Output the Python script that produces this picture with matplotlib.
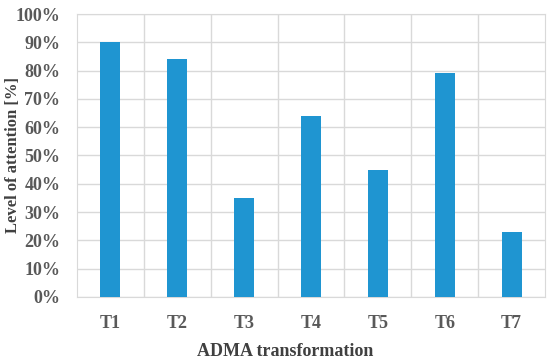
import numpy as np
import matplotlib.pyplot as plt
from matplotlib.ticker import FixedLocator, PercentFormatter

categories = ["T1", "T2", "T3", "T4", "T5", "T6", "T7"]
attention = [90, 84, 35, 64, 45, 79, 23]

plt.rcParams['font.family'] = ['Liberation Serif', 'DejaVu Serif']
plt.rcParams['font.weight'] = 'bold'

fig = plt.figure(figsize=(5.5, 3.62), dpi=100)
ax = fig.add_axes([0.14, 0.18, 0.851, 0.781])

x = np.arange(len(categories))
ax.bar(x, attention, width=0.3, color="#1f95d1", zorder=3)

ax.set_xlim(-0.5, len(categories) - 0.5)
ax.set_ylim(0, 100)
ax.set_yticks(np.arange(0, 101, 10))
ax.yaxis.set_major_formatter(PercentFormatter(decimals=0))
ax.set_xticks(x)
ax.set_xticklabels(categories)
ax.xaxis.set_minor_locator(FixedLocator(np.arange(0.5, len(categories) - 0.5, 1)))

grid_c = "#d9d9d9"
ax.grid(axis="y", which="major", color=grid_c, linewidth=1, zorder=0)
ax.grid(axis="x", which="minor", color=grid_c, linewidth=1, zorder=0)
for s in ["left", "right", "top", "bottom"]:
    ax.spines[s].set_color(grid_c)
ax.tick_params(which="both", length=0, colors="#595959", labelsize=13)
ax.tick_params(axis="y", pad=12)
ax.tick_params(axis="x", pad=13)

fig.text(285 / 550, 1 - 352 / 362, "ADMA transformation", fontsize=13, color="#404040",
         fontweight="bold", ha="center", va="center")
fig.text(13 / 550, 1 - 155 / 362, "Level of attention [%]", fontsize=12, color="#404040",
         fontweight="bold", ha="center", va="center", rotation=90)

fig.savefig("out.png", dpi=100)
